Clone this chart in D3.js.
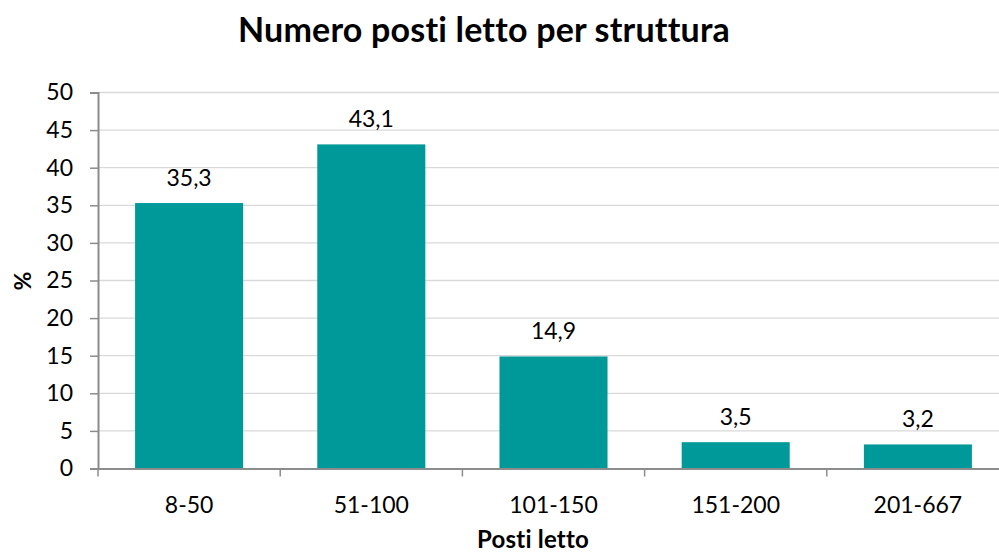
<!DOCTYPE html>
<html><head><meta charset="utf-8">
<script src="https://cdn.jsdelivr.net/npm/d3@7"></script>
<style>body{margin:0;background:#fff}svg{display:block;font-family:Lato,"Open Sans",sans-serif}
text{font-variant-ligatures:none;font-feature-settings:"liga" 0,"clig" 0;}</style>
</head><body>
<svg id="c" width="999" height="554"></svg>
<script>
const categories = ["8-50","51-100","101-150","151-200","201-667"];
const values = [35.3, 43.1, 14.9, 3.5, 3.2];
const yTicks = [0,5,10,15,20,25,30,35,40,45,50];
const title = "Numero posti letto per struttura";
const xTitle = "Posti letto";
const yTitle = "%";

const svg = d3.select("#c");
const pLeft = 98, pRight = 1009, pTop = 92.5, pBottom = 468.5;
const x = d3.scaleBand().domain(categories).range([pLeft, pRight]).paddingInner(0.407).paddingOuter(0.2035);
const y = d3.scaleLinear().domain([0,50]).range([pBottom, pTop]);

// gridlines
svg.append("g").selectAll("line").data(yTicks.filter(d=>d>0)).join("line")
  .attr("x1", pLeft).attr("x2", 999).attr("y1", d=>y(d)).attr("y2", d=>y(d))
  .attr("stroke", "#d9d9d9").attr("stroke-width", 1.3);

// bars
svg.append("g").selectAll("rect").data(values).join("rect")
  .attr("x", (d,i)=>x(categories[i])).attr("width", x.bandwidth())
  .attr("y", d=>y(d)).attr("height", d=>pBottom - y(d))
  .attr("fill", "#009999");

// y axis
const ya = svg.append("g").attr("transform", `translate(${pLeft},0)`)
  .call(d3.axisLeft(y).tickValues(yTicks).tickSize(8).tickPadding(17).tickFormat(d3.format("d")));
ya.select(".domain").attr("stroke", "#8c8c8c").attr("stroke-width", 2);
ya.selectAll(".tick line").attr("stroke", "#8c8c8c").attr("stroke-width", 1.5);
ya.selectAll(".tick text").attr("font-size", 23).attr("fill", "#000").attr("font-family", "Lato");

// x axis with boundary ticks
const xa = svg.append("g").attr("transform", `translate(0,${pBottom})`)
  .call(d3.axisBottom(x).tickSize(0).tickPadding(28));
xa.select(".domain").attr("stroke", "#8c8c8c").attr("stroke-width", 2);
xa.selectAll(".tick text").attr("font-size", 23).attr("fill", "#000").attr("font-family", "Lato");
const step = x.step();
svg.append("g").selectAll("line").data(d3.range(categories.length)).join("line")
  .attr("x1", i=>x(categories[i]) - (step - x.bandwidth())/2)
  .attr("x2", i=>x(categories[i]) - (step - x.bandwidth())/2)
  .attr("y1", pBottom).attr("y2", pBottom+8)
  .attr("stroke", "#8c8c8c").attr("stroke-width", 1.5);

// data labels
svg.append("g").selectAll("text").data(values).join("text")
  .attr("x", (d,i)=>x(categories[i]) + x.bandwidth()/2)
  .attr("y", d=>y(d) - 17)
  .attr("text-anchor", "middle").attr("font-size", 23)
  .text(d=>d3.format(".1f")(d).replace(".", ","));

// titles
svg.append("text").attr("x", 484).attr("y", 42).attr("text-anchor","middle")
  .attr("font-size", 34).attr("font-weight", "bold").attr("letter-spacing", 0.2).text(title);
svg.append("text").attr("x", 533).attr("y", 548).attr("text-anchor","middle")
  .attr("font-size", 24).attr("font-weight", "bold").attr("letter-spacing", 0.2).text(xTitle);
svg.append("text").attr("transform", "translate(31,281) rotate(-90)").attr("text-anchor","middle")
  .attr("font-size", 23).attr("font-weight", "bold").text(yTitle);
</script>
</body></html>
